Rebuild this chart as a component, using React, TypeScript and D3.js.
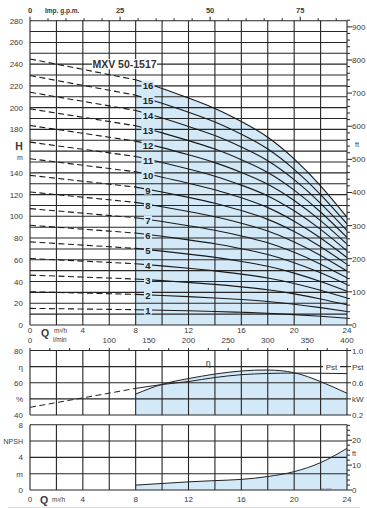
import React from 'react';
import * as d3 from 'd3';

// flow grid (m3/h) and axis labels
const qGrid = [0, 2, 4, 6, 8, 10, 12, 14, 16, 18, 20, 22, 24];
const qLabels = [0, 4, 8, 12, 16, 20, 24];
const lminLabels = [0, 100, 150, 200, 250, 300, 350, 400];
const gpmLabels = [0, 25, 50, 75];
const hTicks = [0, 20, 40, 60, 80, 100, 120, 140, 180, 200, 220, 240, 260, 280];
const ftTicks = [0, 100, 200, 300, 400, 500, 600, 700, 800, 900];

// head curves: per stage head (m) vs flow
const stages = [1, 2, 3, 4, 5, 6, 7, 8, 9, 10, 11, 12, 13, 14, 15, 16];
const curveQ = [0, 2, 4, 6, 8, 10, 12, 14, 16, 18, 20, 22, 24];
const headPerStage = [15.3, 15.0, 14.7, 14.4, 14.1, 13.6, 13.05, 12.45, 11.7, 10.8, 9.55, 8.0, 6.2];

// efficiency and power
const effQ = [8, 10, 12, 14, 16, 18, 20, 22, 24];
const effVals = [53.0, 59.0, 62.6, 65.4, 67.3, 67.9, 66.2, 60.7, 53.5];
const pstDashQ = [0, 8];
const pstDashVals = [0.295, 0.53];
const pstQ = [8, 10, 12, 14, 16, 18, 20, 22, 24];
const pstVals = [0.53, 0.578, 0.615, 0.665, 0.7, 0.715, 0.72, 0.718, 0.713];

// NPSH
const npshQ = [8, 10, 12, 14, 16, 18, 20, 22, 24];
const npshVals = [0.6, 0.8, 1.0, 1.15, 1.3, 1.65, 2.25, 3.35, 5.1];

const etaLeft = [{ v: 80, t: '80' }, { v: 70, t: 'η' }, { v: 60, t: '60' }, { v: 50, t: '%' }, { v: 40, t: '40' }];
const kwRight = [{ v: 1.0, t: '1.0' }, { v: 0.8, t: 'Pst' }, { v: 0.6, t: '0.6' }, { v: 0.4, t: 'kW' }, { v: 0.2, t: '0.2' }];
const npshLeft = [{ v: 8, t: '8' }, { v: 6, t: 'NPSH' }, { v: 4, t: '4' }, { v: 2, t: 'm' }, { v: 0, t: '0' }];
const npshFtLabels = [{ v: 0, t: '0' }, { v: 10, t: '10' }, { v: 15, t: 'ft' }, { v: 20, t: '20' }];

const FILL = '#d3e9f7';
const GRID = '#262626';
const TXT = '#3a3a3a';
const FONT = '"Liberation Sans", Arial, sans-serif';

const x = d3.scaleLinear().domain([0, 24]).range([30, 347]);
const xGpm = d3.scaleLinear().domain([0, 24 * 3.6662]).range([30, 347]);
const xLmin = d3.scaleLinear().domain([0, 400]).range([30, 347]);
const yH = d3.scaleLinear().domain([0, 280]).range([325, 20.7]);
const yFt = d3.scaleLinear().domain([0, 280 / 0.3048]).range([325, 20.7]);
const yEta = d3.scaleLinear().domain([40, 80]).range([415, 350.5]);
const yKw = d3.scaleLinear().domain([0.2, 1.0]).range([415, 350.5]);
const yN = d3.scaleLinear().domain([0, 8]).range([490, 424.7]);
const yNft = d3.scaleLinear().domain([0, 8 / 0.3048]).range([490, 424.7]);

type P = [number, number];

const headAt = (q: number) => {
  const i = Math.min(curveQ.length - 2, Math.max(0, d3.bisectRight(curveQ, q) - 1));
  const t = (q - curveQ[i]) / (curveQ[i + 1] - curveQ[i]);
  return headPerStage[i] + t * (headPerStage[i + 1] - headPerStage[i]);
};

const App: React.FC = () => {
  const stagePts = (n: number): P[] => curveQ.map((q, i) => [q, n * headPerStage[i]]);

  const straight = d3.line<P>().x(d => x(d[0])).y(d => yH(d[1]));
  const smooth = d3.line<P>().x(d => x(d[0])).y(d => yH(d[1])).curve(d3.curveNatural);

  const topPts = stagePts(16).filter(d => d[0] >= 8);
  const headArea = d3.area<P>().x(d => x(d[0])).y0(yH(0)).y1(d => yH(d[1])).curve(d3.curveNatural);

  const effPts: P[] = effQ.map((q, i) => [q, effVals[i]]);
  const effLine = d3.line<P>().x(d => x(d[0])).y(d => yEta(d[1])).curve(d3.curveNatural);
  const effArea = d3.area<P>().x(d => x(d[0])).y0(yEta(40)).y1(d => yEta(d[1])).curve(d3.curveNatural);
  const pstLine = d3.line<P>().x(d => x(d[0])).y(d => yKw(d[1])).curve(d3.curveMonotoneX);

  const npshPts: P[] = npshQ.map((q, i) => [q, npshVals[i]]);
  const npshLine = d3.line<P>().x(d => x(d[0])).y(d => yN(d[1])).curve(d3.curveMonotoneX);
  const npshArea = d3.area<P>().x(d => x(d[0])).y0(yN(0)).y1(d => yN(d[1])).curve(d3.curveMonotoneX);

  const hGrid = d3.range(0, 281, 10);
  const ftMinor = d3.range(0, 921, 20);
  const gpmMinor = d3.range(0, 88, 5);
  const lminMinor = d3.range(0, 401, 25);
  const nFtMinor = d3.range(0, 27, 2);

  const vGrid = (y0: number, y1: number) =>
    qGrid.map(q => <line key={q} x1={x(q)} x2={x(q)} y1={y0} y2={y1} stroke={GRID} strokeWidth={1.1} />);

  return (
    <svg width={367} height={508} viewBox="0 0 367 508" style={{ position: 'absolute', left: 0, top: 0, background: '#fff' }} fontFamily={FONT}>
      {/* ---------- head chart ---------- */}
      <path d={headArea(topPts) || undefined} fill={FILL} />
      {hGrid.map(h => <line key={h} x1={30} x2={347} y1={yH(h)} y2={yH(h)} stroke={GRID} strokeWidth={1.1} />)}
      {vGrid(yH(280), yH(0))}

      {/* top gpm axis */}
      {gpmMinor.map(g => <line key={g} x1={xGpm(g)} x2={xGpm(g)} y1={yH(280)} y2={yH(280) - (g % 25 === 0 ? 4 : 2.5)} stroke={GRID} strokeWidth={1} />)}
      {gpmLabels.map(g => (
        <text key={g} x={xGpm(g)} y={13} fontSize={7.5} fontWeight="bold" fill={TXT} textAnchor="middle">{g}</text>
      ))}
      <text x={45} y={12.5} fontSize={6.5} fontWeight="bold" fill={TXT}>Imp. g.p.m.</text>

      {/* right ft axis */}
      {ftMinor.map(f => (
        <line key={f} x1={347} x2={347 + (f % 100 === 0 ? 5 : 3)} y1={yFt(f)} y2={yFt(f)} stroke={GRID} strokeWidth={1} />
      ))}
      {ftTicks.map(f => (
        <text key={f} x={352} y={yFt(f) + 3} fontSize={8} fill={TXT}>{f}</text>
      ))}
      <text x={355} y={yFt(545) + 3} fontSize={7} fill={TXT}>ft</text>

      {/* left H axis */}
      {hTicks.map(h => (
        <text key={h} x={23} y={yH(h) + 3} fontSize={8} fill={TXT} textAnchor="end">{h}</text>
      ))}
      <text x={19} y={yH(165) + 4} fontSize={10.5} fontWeight="bold" fill={TXT} textAnchor="middle">H</text>
      <text x={20} y={yH(155) + 3} fontSize={7} fill={TXT} textAnchor="middle">m</text>

      {/* stage curves */}
      {stages.map(n => {
        const pts = stagePts(n);
        return (
          <g key={n}>
            <path d={straight(pts.filter(d => d[0] <= 8)) || undefined} fill="none" stroke="#1a1a1a" strokeWidth={1.1} strokeDasharray="6,3.5" />
            <path d={smooth(pts.filter(d => d[0] >= 8)) || undefined} fill="none" stroke="#1a1a1a" strokeWidth={1.1} />
          </g>
        );
      })}
      {stages.map(n => {
        const yy = yH(n * headAt(9.2));
        const w = n >= 10 ? 13 : 8;
        return (
          <g key={n}>
            <rect x={148 - w / 2} y={yy - 4.5} width={w} height={9} fill={FILL} />
            <text x={148} y={yy + 3.5} fontSize={9.5} fontWeight="bold" fill="#222" textAnchor="middle">{n}</text>
          </g>
        );
      })}

      {/* model label */}
      <rect x={92} y={yH(240) - 5} width={65} height={10} fill="#fff" />
      <text x={124.5} y={yH(240) + 4} fontSize={10.5} fontWeight="bold" fill="#333" textAnchor="middle">MXV 50-1517</text>

      {/* Q axis rows */}
      {qLabels.map(q => (
        <text key={q} x={x(q)} y={332.5} fontSize={8} fill={TXT} textAnchor="middle">{q}</text>
      ))}
      <text x={45} y={337} fontSize={10.5} fontWeight="bold" fill={TXT} textAnchor="middle">Q</text>
      <text x={54} y={333} fontSize={6.5} fill={TXT}>m³/h</text>
      {lminLabels.map(l => (
        <text key={l} x={xLmin(l)} y={343} fontSize={8} fill={TXT} textAnchor="middle">{l}</text>
      ))}
      <text x={53} y={342} fontSize={6.5} fill={TXT}>l/min</text>

      {/* ---------- efficiency / power ---------- */}
      <path d={effArea(effPts) || undefined} fill={FILL} />
      {[40, 50, 60, 70, 80].map(v => <line key={v} x1={30} x2={347} y1={yEta(v)} y2={yEta(v)} stroke={GRID} strokeWidth={1.1} />)}
      {vGrid(yEta(80), yEta(40))}
      {lminMinor.map(l => (
        <line key={l} x1={xLmin(l)} x2={xLmin(l)} y1={yEta(80)} y2={yEta(80) - 2.5} stroke={GRID} strokeWidth={1} />
      ))}
      <path d={d3.line<P>().x(d => x(d[0])).y(d => yKw(d[1]))(pstDashQ.map((q, i) => [q, pstDashVals[i]] as P)) || undefined}
        fill="none" stroke="#222" strokeWidth={1} strokeDasharray="6,3.5" />
      <path d={pstLine(pstQ.map((q, i) => [q, pstVals[i]] as P)) || undefined} fill="none" stroke="#222" strokeWidth={1} />
      <path d={effLine(effPts) || undefined} fill="none" stroke="#222" strokeWidth={1} />
      <text x={x(13.5)} y={yEta(70.5)} fontSize={9} fill={TXT} textAnchor="middle">η</text>
      <rect x={323} y={yKw(0.8) - 4} width={17} height={8} fill="#fff" />
      <text x={331.5} y={yKw(0.8) + 3} fontSize={8} fill={TXT} textAnchor="middle">Pst</text>
      {etaLeft.map(d => (
        <text key={d.t} x={23} y={yEta(d.v) + 3} fontSize={8} fill={TXT} textAnchor="end">{d.t}</text>
      ))}
      {kwRight.map(d => (
        <g key={d.t}>
          <line x1={347} x2={351} y1={yKw(d.v)} y2={yKw(d.v)} stroke={GRID} strokeWidth={1} />
          <text x={352} y={yKw(d.v) + 3} fontSize={8} fill={TXT}>{d.t}</text>
        </g>
      ))}

      {/* ---------- NPSH ---------- */}
      <path d={npshArea(npshPts) || undefined} fill={FILL} />
      {[0, 2, 4, 6, 8].map(v => <line key={v} x1={30} x2={347} y1={yN(v)} y2={yN(v)} stroke={GRID} strokeWidth={1.1} />)}
      {vGrid(yN(8), yN(0))}
      <path d={npshLine(npshPts) || undefined} fill="none" stroke="#222" strokeWidth={1} />
      {npshLeft.map(d => (
        <text key={d.t} x={23} y={yN(d.v) + 3} fontSize={d.t === 'NPSH' ? 7 : 8} fill={TXT} textAnchor="end">{d.t}</text>
      ))}
      {nFtMinor.map(f => (
        <line key={f} x1={347} x2={347 + (f % 10 === 0 ? 5 : 3)} y1={yNft(f)} y2={yNft(f)} stroke={GRID} strokeWidth={1} />
      ))}
      {npshFtLabels.map(d => (
        <text key={d.t} x={352} y={yNft(d.v) + 3} fontSize={d.t === 'ft' ? 7 : 8} fill={TXT}>{d.t}</text>
      ))}
      {qLabels.map(q => (
        <text key={q} x={x(q)} y={502} fontSize={8} fill={TXT} textAnchor="middle">{q}</text>
      ))}
      <text x={44} y={503.5} fontSize={10.5} fontWeight="bold" fill={TXT} textAnchor="middle">Q</text>
      <text x={52} y={502} fontSize={6.5} fill={TXT}>m³/h</text>
      <text x={326} y={491} fontSize={3.5} fill="#666" textAnchor="middle">72.937</text>
      <line x1={8} x2={360} y1={507.5} y2={507.5} stroke="#ddd" strokeWidth={1} />
    </svg>
  );
};

export default App;
